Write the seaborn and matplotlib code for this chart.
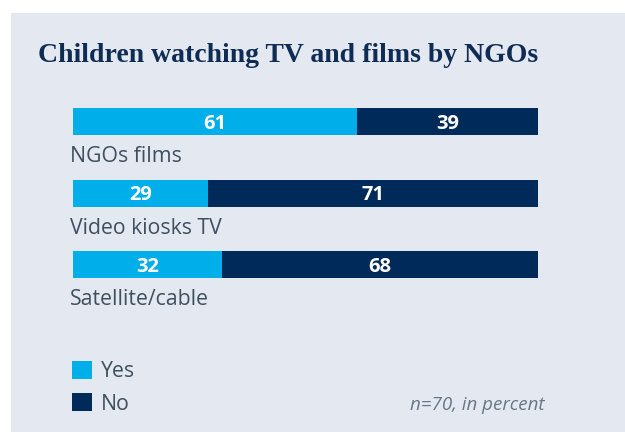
import matplotlib
matplotlib.use("Agg")
import matplotlib.pyplot as plt
import matplotlib.transforms as mtransforms
from matplotlib.patches import Rectangle, Patch
import seaborn as sns
import pandas as pd

# Survey answers (percent)
categories = ["NGOs films", "Video kiosks TV", "Satellite/cable"]
yes_values = [61, 29, 32]
no_values = [39, 71, 68]
legend_labels = ["Yes", "No"]
title = "Children watching TV and films by NGOs"
note = "n=70, in percent"

YES_COLOR = "#00aeea"
NO_COLOR = "#002a5a"
PANEL = "#e4e9f1"
TITLE_COLOR = "#0f2c54"
TEXT_COLOR = "#3e4f5e"
NOTE_COLOR = "#667786"

sns.set_theme(style="white")
plt.rcParams["font.family"] = ["Open Sans", "DejaVu Sans"]

W, H, DPI = 625, 432, 100
fig = plt.figure(figsize=(W / DPI, H / DPI), dpi=DPI, facecolor="white")

# light panel behind the whole chart
fig.patches.append(Rectangle((11 / W, 0), 1, (H - 13) / H, transform=fig.transFigure,
                             facecolor=PANEL, edgecolor="none", zorder=-10))

# plotting area: bars span 73..538 px, category pitch 71.5 px
pitch = 71.5
top_px = 121.5 - pitch / 2
ax = fig.add_axes([73 / W, (H - (top_px + 3 * pitch)) / H, 465 / W, 3 * pitch / H])
ax.set_facecolor("none")

df = pd.DataFrame({"category": categories, "yes": yes_values, "no": no_values})
df["total"] = df["yes"] + df["no"]

bar_w = 27 / pitch
sns.barplot(data=df, x="total", y="category", color=NO_COLOR, width=bar_w,
            saturation=1, ax=ax, orient="h")
sns.barplot(data=df, x="yes", y="category", color=YES_COLOR, width=bar_w,
            saturation=1, ax=ax, orient="h")
for p in ax.patches:
    p.set_linewidth(0)

ax.set_xlim(0, 100)
ax.set_ylim(2.5, -0.5)
ax.axis("off")

# value labels inside the segments
for i, (y, n) in enumerate(zip(yes_values, no_values)):
    ax.text(y / 2, i, f"{y}", ha="center", va="center_baseline", color="white",
            fontsize=14.5, fontweight="bold")
    ax.text(y + n / 2, i, f"{n}", ha="center", va="center_baseline", color="white",
            fontsize=14.5, fontweight="bold")

# category names under each bar
for i, cat in enumerate(categories):
    tr = mtransforms.offset_copy(ax.transData, fig=fig, x=-3, y=-40.8, units="dots")
    ax.text(0, i, cat, transform=tr, ha="left", va="baseline",
            color=TEXT_COLOR, fontsize=15.3)

# title
fig.text(38 / W, 1 - 62 / H, title, ha="left", va="baseline",
         family=["Liberation Serif"], fontweight="bold", fontsize=20, color=TITLE_COLOR)

# legend
handles = [Patch(facecolor=YES_COLOR, edgecolor="none"),
           Patch(facecolor=NO_COLOR, edgecolor="none")]
fig.legend(handles, legend_labels, loc="upper left",
           bbox_to_anchor=(72 / W, 1 - 361 / H), frameon=False, fontsize=15.3,
           handlelength=0.93, handleheight=0.93, handletextpad=0.45,
           labelspacing=0.52, borderpad=0, borderaxespad=0,
           labelcolor=TEXT_COLOR)

# footnote
fig.text(544 / W, 1 - 410 / H, note, ha="right", va="baseline",
         fontsize=13.5, style="italic", color=NOTE_COLOR)

fig.savefig("out.png", dpi=DPI, facecolor="white")
